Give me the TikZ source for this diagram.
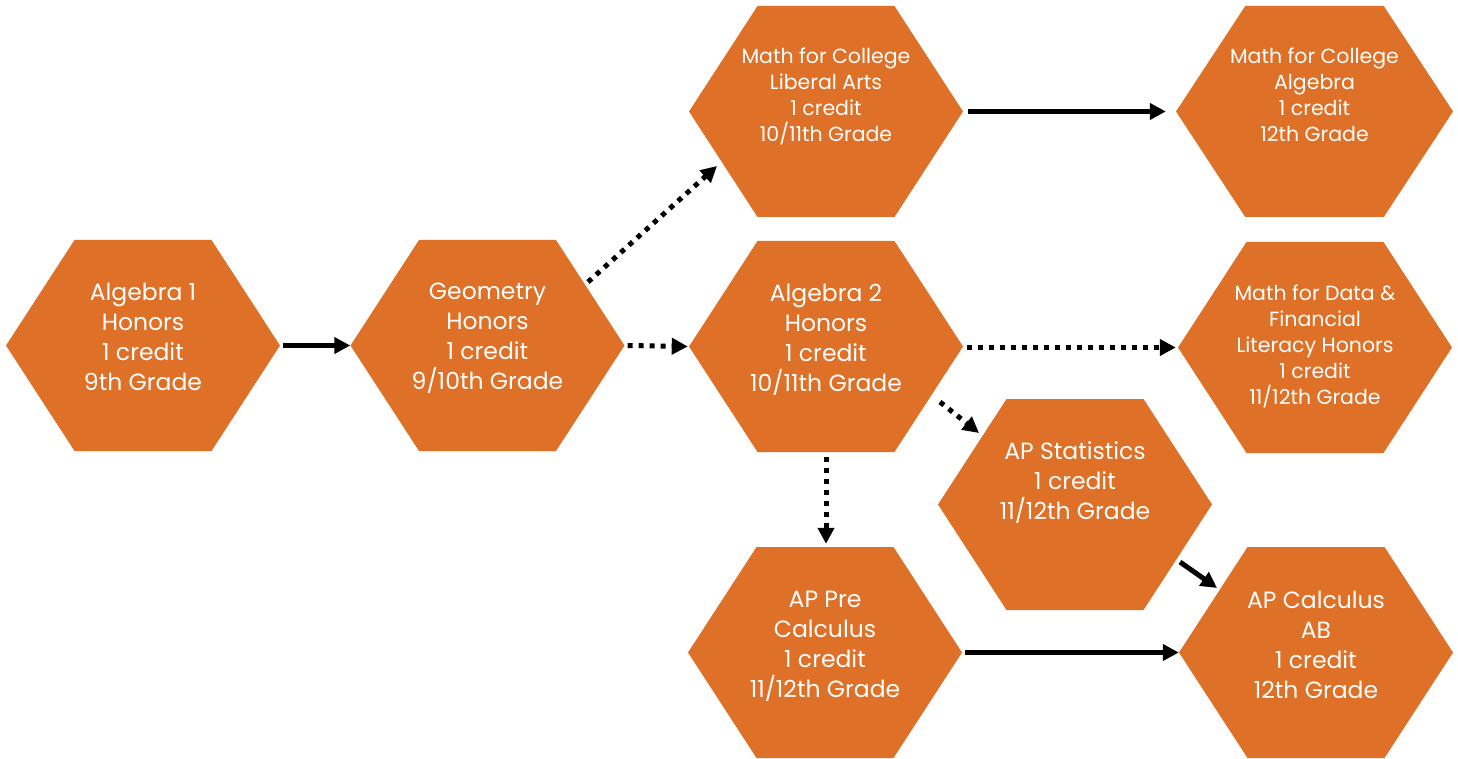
\documentclass[tikz,border=0pt]{standalone}
\usepackage{fontspec}
\setmainfont{Poppins}
\usetikzlibrary{arrows.meta,calc}
\definecolor{hexc}{RGB}{222,112,39}
\tikzset{
  hexbox/.style={rectangle, draw=none, inner sep=0pt,
    minimum width=274pt, minimum height=211pt,
    path picture={\fill[hexc]
      (path picture bounding box.west)
      -- ($(path picture bounding box.north west)!0.25!(path picture bounding box.north east)$)
      -- ($(path picture bounding box.north west)!0.75!(path picture bounding box.north east)$)
      -- (path picture bounding box.east)
      -- ($(path picture bounding box.south west)!0.75!(path picture bounding box.south east)$)
      -- ($(path picture bounding box.south west)!0.25!(path picture bounding box.south east)$)
      -- cycle;}},
  txtbig/.style={text=white, align=center, inner sep=0pt, anchor=north,
    font=\fontsize{23.5}{30}\selectfont},
  txtsmall/.style={text=white, align=center, inner sep=0pt, anchor=north,
    font=\fontsize{20.5}{26}\selectfont},
  solidarr/.style={line width=5pt, -{Triangle[length=16pt,width=16pt]}},
  dotarr/.style={line width=5pt, dash pattern=on 5pt off 6pt,
    -{Triangle[length=16pt,width=16pt]}}
}
\begin{document}
\begin{tikzpicture}[x=1pt,y=-1pt]
\useasboundingbox (0,0) rectangle (1458,759);
% hexagons
\node[hexbox] (alg1) at (143,345.5) {};
\node[hexbox] (geo)  at (487.5,345.5) {};
\node[hexbox] (mla)  at (826,111.5) {};
\node[hexbox, minimum width=277pt] (mca) at (1314.5,111.5) {};
\node[hexbox] (alg2) at (826,346.5) {};
\node[hexbox] (mdf)  at (1315,347.5) {};
\node[hexbox] (stat) at (1075,504.5) {};
\node[hexbox] (pre)  at (825,652.5) {};
\node[hexbox] (calc) at (1316,652.5) {};
% texts
\node[txtbig] (alg1t) at ($(alg1.north)+(0,43)$) {Algebra 1\\Honors\\1 credit\\9th Grade};
\node[txtbig] (geot) at ($(geo.north)+(0,43)$) {Geometry\\Honors\\1 credit\\9/10th Grade};
\node[txtsmall] (mlat) at ($(mla.north)+(0,42)$) {Math for College\\Liberal Arts\\1 credit\\10/11th Grade};
\node[txtsmall] (mcat) at ($(mca.north)+(0,42)$) {Math for College\\Algebra\\1 credit\\12th Grade};
\node[txtbig] (alg2t) at ($(alg2.north)+(0,43)$) {Algebra 2\\Honors\\1 credit\\10/11th Grade};
\node[txtsmall] (mdft) at ($(mdf.north)+(0,43)$) {Math for Data \&\\Financial\\Literacy Honors\\1 credit\\11/12th Grade};
\node[txtbig] (statt) at ($(stat.north)+(0,43)$) {AP Statistics\\1 credit\\11/12th Grade};
\node[txtbig] (pret) at ($(pre.north)+(0,44)$) {AP Pre\\Calculus\\1 credit\\11/12th Grade};
\node[txtbig] (calct) at ($(calc.north)+(0,44)$) {AP Calculus\\AB\\1 credit\\12th Grade};
% connectors
\draw[solidarr] ($(alg1.east)+(3,0)$) -- (geo.west);
\draw[dotarr] ($(geo.east)+(3,0)$) -- ($(alg2.west)+(-1,0)$);
\draw[dotarr] ($(geo.center)+(100.5,-63.5)$) -- ($(mla.center)+(-109,54.5)$);
\draw[solidarr] ($(mla.east)+(5,0)$) -- ($(mca.west)+(-10,0)$);
\draw[dotarr] ($(alg2.east)+(4,1)$) -- ($(mdf.west)+(-2,0)$);
\draw[dotarr] ($(alg2.center)+(114,55.5)$) -- ($(stat.center)+(-96,-71.5)$);
\draw[dotarr] ($(alg2.south)+(0,5)$) -- ($(pre.north)+(1,-3)$);
\draw[solidarr] ($(stat.center)+(105,57.5)$) -- ($(calc.center)+(-99,-64.5)$);
\draw[solidarr] ($(pre.east)+(3,0)$) -- (calc.west);
\end{tikzpicture}
\end{document}
